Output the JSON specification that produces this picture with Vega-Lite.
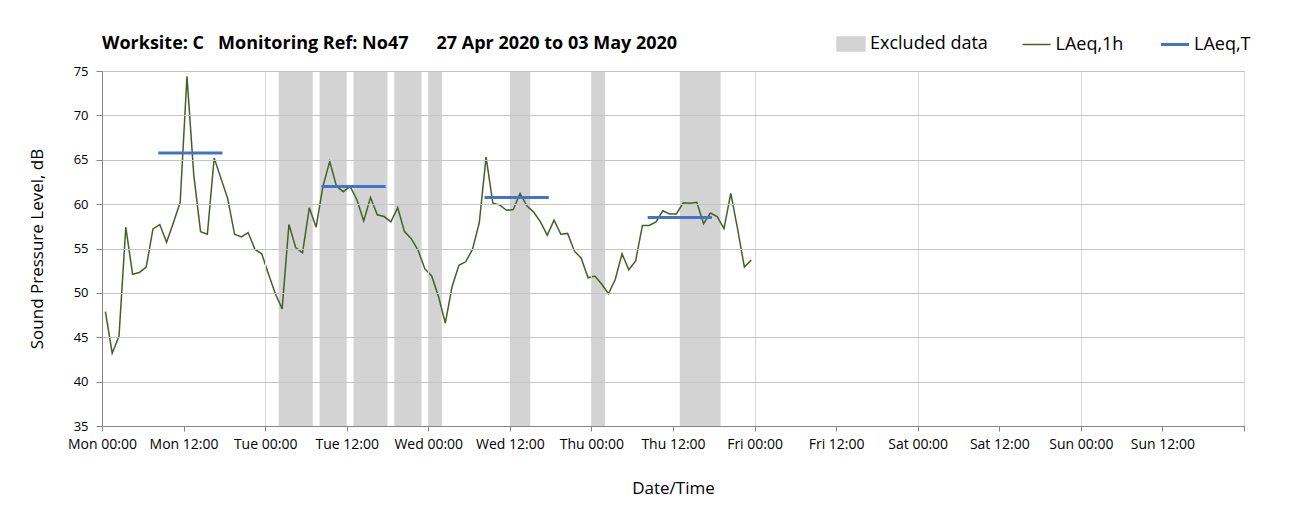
{
  "$schema": "https://vega.github.io/schema/vega-lite/v6.json",
  "width": 1142,
  "height": 355,
  "autosize": {"type": "none"},
  "padding": {"left": 102, "top": 71, "right": 65, "bottom": 101},
  "background": "white",
  "title": {
    "text": "Worksite: C\u00a0\u00a0\u00a0Monitoring Ref: No47\u00a0\u00a0\u00a0\u00a0\u00a0\u00a027 Apr 2020 to 03 May 2020",
    "anchor": "start",
    "frame": "group",
    "font": "Open Sans",
    "fontSize": 18,
    "fontWeight": "bold",
    "color": "#000000",
    "offset": -18
  },
  "config": {
    "font": "Open Sans",
    "view": {"stroke": "#a6a6a6", "strokeWidth": 1},
    "axis": {
      "labelFont": "Open Sans",
      "titleFont": "Open Sans",
      "labelColor": "#000000",
      "titleColor": "#000000",
      "titleFontWeight": "normal",
      "domainColor": "#868686",
      "tickColor": "#868686",
      "labelFontSize": 13,
      "titleFontSize": 17
    }
  },
  "encoding": {
    "x": {
      "field": "hour",
      "type": "quantitative",
      "scale": {"domain": [0, 168], "nice": false, "zero": false},
      "axis": {
        "title": "Date/Time",
        "values": [0, 12, 24, 36, 48, 60, 72, 84, 96, 108, 120, 132, 144, 156, 168],
        "labelExpr": "datum.value >= 168 ? '' : ['Mon','Tue','Wed','Thu','Fri','Sat','Sun'][floor(datum.value/24)] + ' ' + (datum.value % 24 === 0 ? '00:00' : '12:00')",
        "labelOverlap": false,
        "labelFlush": false,
        "labelFontSize": 14,
        "labelDx": 9,
        "labelPadding": 6,
        "tickSize": 5,
        "titlePadding": 29,
        "grid": true,
        "gridColor": {"condition": {"test": "datum.value % 24 === 0", "value": "#d9d9d9"}, "value": "transparent"},
        "zindex": 1
      }
    },
    "color": {
      "field": "series",
      "type": "nominal",
      "scale": {"domain": ["Excluded data", "LAeq,1h", "LAeq,T"], "range": ["#d3d3d3", "#456026", "#4472c4"]},
      "legend": {
        "title": null,
        "orient": "none",
        "legendX": 740,
        "legendY": -36,
        "direction": "horizontal",
        "padding": 0,
        "labelFont": "Open Sans",
        "labelFontSize": 18,
        "labelColor": "#000000",
        "symbolSize": 784,
        "labelOffset": 10,
        "columnPadding": 31.5,
        "encode": {
          "symbols": {
            "update": {
              "shape": {"signal": "datum.value === 'Excluded data' ? 'M-1,-0.5H1V0.5H-1Z' : 'M-1,0H1'"},
              "fill": {"signal": "datum.value === 'Excluded data' ? '#d3d3d3' : 'transparent'"},
              "stroke": {"signal": "datum.value === 'Excluded data' ? 'transparent' : (datum.value === 'LAeq,1h' ? '#456026' : '#4472c4')"},
              "strokeWidth": {"signal": "datum.value === 'LAeq,T' ? 3 : 1.5"},
              "opacity": {"value": 1},
              "fillOpacity": {"value": 1},
              "strokeOpacity": {"value": 1}
            }
          }
        }
      }
    }
  },
  "layer": [
    {
      "data": {
        "values": [
          {"hour": 26, "hour_end": 31, "series": "Excluded data"},
          {"hour": 32, "hour_end": 36, "series": "Excluded data"},
          {"hour": 37, "hour_end": 42, "series": "Excluded data"},
          {"hour": 43, "hour_end": 47, "series": "Excluded data"},
          {"hour": 48, "hour_end": 50, "series": "Excluded data"},
          {"hour": 60, "hour_end": 63, "series": "Excluded data"},
          {"hour": 72, "hour_end": 74, "series": "Excluded data"},
          {"hour": 85, "hour_end": 91, "series": "Excluded data"}
        ]
      },
      "mark": {"type": "rect", "opacity": 1},
      "encoding": {
        "x2": {"field": "hour_end"}
      }
    },
    {
      "data": {
        "values": [
          {"hour": 0.5, "level": 47.9, "series": "LAeq,1h"},
          {"hour": 1.5, "level": 43.2, "series": "LAeq,1h"},
          {"hour": 2.5, "level": 45.1, "series": "LAeq,1h"},
          {"hour": 3.5, "level": 57.4, "series": "LAeq,1h"},
          {"hour": 4.5, "level": 52.1, "series": "LAeq,1h"},
          {"hour": 5.5, "level": 52.3, "series": "LAeq,1h"},
          {"hour": 6.5, "level": 52.9, "series": "LAeq,1h"},
          {"hour": 7.5, "level": 57.2, "series": "LAeq,1h"},
          {"hour": 8.5, "level": 57.7, "series": "LAeq,1h"},
          {"hour": 9.5, "level": 55.7, "series": "LAeq,1h"},
          {"hour": 10.5, "level": 57.9, "series": "LAeq,1h"},
          {"hour": 11.5, "level": 60.2, "series": "LAeq,1h"},
          {"hour": 12.5, "level": 74.4, "series": "LAeq,1h"},
          {"hour": 13.5, "level": 63.3, "series": "LAeq,1h"},
          {"hour": 14.5, "level": 56.9, "series": "LAeq,1h"},
          {"hour": 15.5, "level": 56.6, "series": "LAeq,1h"},
          {"hour": 16.5, "level": 65.2, "series": "LAeq,1h"},
          {"hour": 17.5, "level": 62.9, "series": "LAeq,1h"},
          {"hour": 18.5, "level": 60.6, "series": "LAeq,1h"},
          {"hour": 19.5, "level": 56.6, "series": "LAeq,1h"},
          {"hour": 20.5, "level": 56.3, "series": "LAeq,1h"},
          {"hour": 21.5, "level": 56.8, "series": "LAeq,1h"},
          {"hour": 22.5, "level": 54.9, "series": "LAeq,1h"},
          {"hour": 23.5, "level": 54.4, "series": "LAeq,1h"},
          {"hour": 24.5, "level": 52.1, "series": "LAeq,1h"},
          {"hour": 25.5, "level": 49.9, "series": "LAeq,1h"},
          {"hour": 26.5, "level": 48.2, "series": "LAeq,1h"},
          {"hour": 27.5, "level": 57.7, "series": "LAeq,1h"},
          {"hour": 28.5, "level": 55.1, "series": "LAeq,1h"},
          {"hour": 29.5, "level": 54.5, "series": "LAeq,1h"},
          {"hour": 30.5, "level": 59.6, "series": "LAeq,1h"},
          {"hour": 31.5, "level": 57.4, "series": "LAeq,1h"},
          {"hour": 32.5, "level": 62.0, "series": "LAeq,1h"},
          {"hour": 33.5, "level": 64.8, "series": "LAeq,1h"},
          {"hour": 34.5, "level": 62.0, "series": "LAeq,1h"},
          {"hour": 35.5, "level": 61.4, "series": "LAeq,1h"},
          {"hour": 36.5, "level": 62.0, "series": "LAeq,1h"},
          {"hour": 37.5, "level": 60.5, "series": "LAeq,1h"},
          {"hour": 38.5, "level": 58.1, "series": "LAeq,1h"},
          {"hour": 39.5, "level": 60.75, "series": "LAeq,1h"},
          {"hour": 40.5, "level": 58.8, "series": "LAeq,1h"},
          {"hour": 41.5, "level": 58.6, "series": "LAeq,1h"},
          {"hour": 42.5, "level": 58.0, "series": "LAeq,1h"},
          {"hour": 43.5, "level": 59.6, "series": "LAeq,1h"},
          {"hour": 44.5, "level": 56.9, "series": "LAeq,1h"},
          {"hour": 45.5, "level": 56.1, "series": "LAeq,1h"},
          {"hour": 46.5, "level": 54.8, "series": "LAeq,1h"},
          {"hour": 47.5, "level": 52.7, "series": "LAeq,1h"},
          {"hour": 48.5, "level": 51.9, "series": "LAeq,1h"},
          {"hour": 49.5, "level": 49.6, "series": "LAeq,1h"},
          {"hour": 50.5, "level": 46.6, "series": "LAeq,1h"},
          {"hour": 51.5, "level": 50.7, "series": "LAeq,1h"},
          {"hour": 52.5, "level": 53.1, "series": "LAeq,1h"},
          {"hour": 53.5, "level": 53.5, "series": "LAeq,1h"},
          {"hour": 54.5, "level": 54.9, "series": "LAeq,1h"},
          {"hour": 55.5, "level": 57.9, "series": "LAeq,1h"},
          {"hour": 56.5, "level": 65.3, "series": "LAeq,1h"},
          {"hour": 57.5, "level": 60.1, "series": "LAeq,1h"},
          {"hour": 58.5, "level": 59.9, "series": "LAeq,1h"},
          {"hour": 59.5, "level": 59.3, "series": "LAeq,1h"},
          {"hour": 60.5, "level": 59.4, "series": "LAeq,1h"},
          {"hour": 61.5, "level": 61.2, "series": "LAeq,1h"},
          {"hour": 62.5, "level": 59.8, "series": "LAeq,1h"},
          {"hour": 63.5, "level": 59.1, "series": "LAeq,1h"},
          {"hour": 64.5, "level": 58.0, "series": "LAeq,1h"},
          {"hour": 65.5, "level": 56.5, "series": "LAeq,1h"},
          {"hour": 66.5, "level": 58.2, "series": "LAeq,1h"},
          {"hour": 67.5, "level": 56.6, "series": "LAeq,1h"},
          {"hour": 68.5, "level": 56.7, "series": "LAeq,1h"},
          {"hour": 69.5, "level": 54.7, "series": "LAeq,1h"},
          {"hour": 70.5, "level": 53.9, "series": "LAeq,1h"},
          {"hour": 71.5, "level": 51.7, "series": "LAeq,1h"},
          {"hour": 72.5, "level": 51.9, "series": "LAeq,1h"},
          {"hour": 73.5, "level": 51.0, "series": "LAeq,1h"},
          {"hour": 74.5, "level": 49.9, "series": "LAeq,1h"},
          {"hour": 75.5, "level": 51.5, "series": "LAeq,1h"},
          {"hour": 76.5, "level": 54.4, "series": "LAeq,1h"},
          {"hour": 77.5, "level": 52.6, "series": "LAeq,1h"},
          {"hour": 78.5, "level": 53.6, "series": "LAeq,1h"},
          {"hour": 79.5, "level": 57.6, "series": "LAeq,1h"},
          {"hour": 80.5, "level": 57.6, "series": "LAeq,1h"},
          {"hour": 81.5, "level": 58.0, "series": "LAeq,1h"},
          {"hour": 82.5, "level": 59.25, "series": "LAeq,1h"},
          {"hour": 83.5, "level": 58.9, "series": "LAeq,1h"},
          {"hour": 84.5, "level": 58.9, "series": "LAeq,1h"},
          {"hour": 85.5, "level": 60.15, "series": "LAeq,1h"},
          {"hour": 86.5, "level": 60.1, "series": "LAeq,1h"},
          {"hour": 87.5, "level": 60.2, "series": "LAeq,1h"},
          {"hour": 88.5, "level": 57.8, "series": "LAeq,1h"},
          {"hour": 89.5, "level": 59.0, "series": "LAeq,1h"},
          {"hour": 90.5, "level": 58.6, "series": "LAeq,1h"},
          {"hour": 91.5, "level": 57.25, "series": "LAeq,1h"},
          {"hour": 92.5, "level": 61.2, "series": "LAeq,1h"},
          {"hour": 93.5, "level": 57.2, "series": "LAeq,1h"},
          {"hour": 94.5, "level": 52.9, "series": "LAeq,1h"},
          {"hour": 95.5, "level": 53.7, "series": "LAeq,1h"}
        ]
      },
      "mark": {"type": "line", "strokeWidth": 1.5, "interpolate": "linear"},
      "encoding": {
        "y": {
          "field": "level",
          "type": "quantitative",
          "scale": {"domain": [35, 75], "nice": false, "zero": false},
          "axis": {
            "title": "Sound Pressure Level, dB",
            "values": [35, 40, 45, 50, 55, 60, 65, 70, 75],
            "grid": true,
            "gridColor": "#c4c4c4",
            "tickSize": 6,
            "labelPadding": 8,
            "titlePadding": 27,
            "zindex": 1
          }
        }
      }
    },
    {
      "data": {
        "values": [
          {"hour": 8.5, "hour_end": 17.5, "level": 65.75, "series": "LAeq,T"},
          {"hour": 32.5, "hour_end": 41.5, "level": 62.0, "series": "LAeq,T"},
          {"hour": 56.5, "hour_end": 65.5, "level": 60.75, "series": "LAeq,T"},
          {"hour": 80.5, "hour_end": 89.5, "level": 58.5, "series": "LAeq,T"}
        ]
      },
      "mark": {"type": "rule", "strokeWidth": 3, "strokeCap": "square"},
      "encoding": {
        "x2": {"field": "hour_end"},
        "y": {
          "field": "level",
          "type": "quantitative",
          "scale": {"domain": [35, 75], "nice": false, "zero": false},
          "axis": {
            "title": "Sound Pressure Level, dB",
            "values": [35, 40, 45, 50, 55, 60, 65, 70, 75],
            "grid": true,
            "gridColor": "#c4c4c4",
            "tickSize": 6,
            "labelPadding": 8,
            "titlePadding": 27,
            "zindex": 1
          }
        }
      }
    }
  ]
}
